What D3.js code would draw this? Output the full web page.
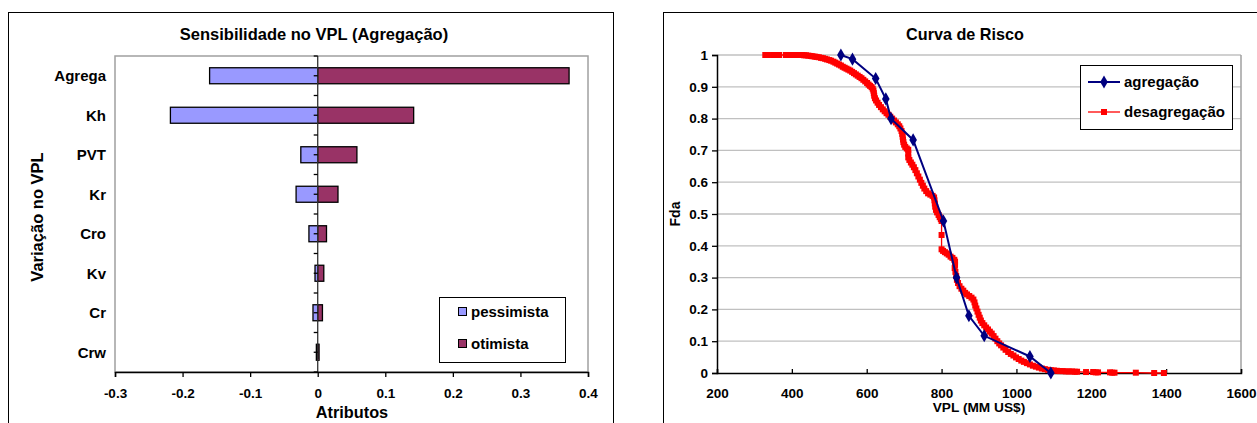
<!DOCTYPE html>
<html>
<head>
<meta charset="utf-8">
<script src="https://cdn.jsdelivr.net/npm/d3@7"></script>
<style>
  html, body { margin: 0; padding: 0; background: #fff; }
  svg { display: block; }
  text { font-family: "Liberation Sans", Arial, sans-serif; font-weight: bold; fill: #000; }
</style>
</head>
<body>
<svg id="chart" width="1257" height="423"></svg>
<script>
// ---- Sensitivity (tornado) data ----
const atributos = ["Agrega", "Kh", "PVT", "Kr", "Cro", "Kv", "Cr", "Crw"];
const pessimista = [-0.160, -0.218, -0.025, -0.032, -0.013, -0.004, -0.007, -0.002];
const otimista = [0.372, 0.142, 0.058, 0.030, 0.013, 0.009, 0.007, 0.002];
const sensTicks = [-0.3, -0.2, -0.1, 0, 0.1, 0.2, 0.3, 0.4];
const sensTickLabels = ["-0.3", "-0.2", "-0.1", "0", "0.1", "0.2", "0.3", "0.4"];

// ---- Risk curve data ----
const vplAgregacao = [531, 562, 624, 651, 665, 724, 805, 840, 873, 914, 1036, 1092];
const fdaAgregacao = [1.000, 0.987, 0.926, 0.862, 0.800, 0.733, 0.478, 0.300, 0.180, 0.117, 0.052, 0.000];

const vplDesagregacao = [
  329, 336, 350, 356, 366, 384, 390, 396, 401, 407, 412, 418, 423, 428, 433, 438, 444, 450, 455, 461,
  466, 472, 478, 483, 489, 494, 500, 505, 511, 516, 521, 526, 531, 536, 541, 546, 551, 556, 561, 566,
  571, 576, 581, 586, 591, 596, 601, 605, 609, 613, 616, 618, 619, 620, 622, 625, 629, 633, 638, 643,
  648, 653, 658, 663, 668, 673, 678, 683, 687, 690, 693, 695, 696, 697, 698, 700, 703, 707, 711, 711,
  711, 714, 718, 722, 726, 730, 734, 738, 742, 746, 750, 754, 759, 764, 770, 776, 780, 781, 782, 783,
  785, 788, 792, 795, 798, 800, 800, 800, 804, 809, 814, 819, 824, 829, 834, 836, 836, 835, 837, 839,
  841, 844, 848, 853, 858, 863, 868, 874, 880, 885, 888, 890, 893, 896, 899, 902, 905, 909, 914, 919,
  924, 929, 934, 939, 944, 949, 954, 959, 965, 971, 978, 985, 992, 999, 1006, 1013, 1020, 1028, 1036, 1044,
  1052, 1060, 1068, 1076, 1084, 1092, 1100, 1108, 1116, 1124, 1132, 1140, 1148, 1156, 1162, 1186, 1205, 1212, 1218, 1250,
  1256, 1262, 1319, 1368, 1394
];
const fdaDesagregacao = [
  1.000, 1.000, 1.000, 1.000, 1.000, 1.000, 1.000, 1.000, 1.000, 1.000, 1.000, 1.000, 1.000, 1.000, 0.999, 0.999, 0.998, 0.997, 0.996, 0.995,
  0.994, 0.993, 0.991, 0.990, 0.988, 0.986, 0.984, 0.982, 0.979, 0.976, 0.973, 0.970, 0.967, 0.963, 0.960, 0.957, 0.954, 0.951, 0.947, 0.943,
  0.939, 0.935, 0.931, 0.927, 0.922, 0.917, 0.912, 0.907, 0.903, 0.899, 0.894, 0.888, 0.880, 0.872, 0.864, 0.857, 0.850, 0.843, 0.836, 0.829,
  0.823, 0.817, 0.812, 0.806, 0.800, 0.794, 0.788, 0.782, 0.776, 0.769, 0.761, 0.752, 0.743, 0.734, 0.726, 0.718, 0.711, 0.706, 0.702, 0.690,
  0.678, 0.670, 0.662, 0.655, 0.647, 0.638, 0.628, 0.618, 0.608, 0.598, 0.589, 0.580, 0.572, 0.565, 0.561, 0.557, 0.552, 0.543, 0.533, 0.523,
  0.513, 0.505, 0.497, 0.490, 0.484, 0.478, 0.434, 0.389, 0.384, 0.380, 0.376, 0.372, 0.366, 0.362, 0.356, 0.350, 0.340, 0.330, 0.318, 0.305,
  0.293, 0.283, 0.273, 0.265, 0.259, 0.252, 0.247, 0.242, 0.237, 0.231, 0.222, 0.212, 0.203, 0.193, 0.183, 0.174, 0.165, 0.157, 0.150, 0.143,
  0.137, 0.130, 0.124, 0.116, 0.108, 0.100, 0.093, 0.087, 0.080, 0.073, 0.066, 0.060, 0.055, 0.049, 0.044, 0.039, 0.035, 0.031, 0.027, 0.023,
  0.020, 0.017, 0.014, 0.012, 0.010, 0.009, 0.008, 0.007, 0.006, 0.006, 0.005, 0.005, 0.005, 0.004, 0.004, 0.003, 0.003, 0.002, 0.002, 0.002,
  0.001, 0.001, 0.001, 0.000, 0.000
];
const fdaTicks = [0, 0.1, 0.2, 0.3, 0.4, 0.5, 0.6, 0.7, 0.8, 0.9, 1];
const fdaTickLabels = ["0", "0.1", "0.2", "0.3", "0.4", "0.5", "0.6", "0.7", "0.8", "0.9", "1"];
const vplTicks = [200, 400, 600, 800, 1000, 1200, 1400, 1600];

const svg = d3.select("#chart");

function styleAxis(a) {
  a.select(".domain").attr("stroke", "#000").attr("stroke-width", 1.5);
  a.selectAll(".tick line").attr("stroke", "#000").attr("stroke-width", 1.3);
  a.selectAll(".tick text").attr("font-size", 13.5).attr("font-family", "Liberation Sans, Arial, sans-serif")
    .attr("font-weight", "bold").attr("fill", "#000");
}

// =================== Left: tornado chart ===================
(function () {
  const g = svg.append("g");
  const L = 115, R = 588, T = 56, B = 372;
  const x = d3.scaleLinear().domain([-0.3, 0.4]).range([L, R]);
  const y = d3.scaleBand().domain(atributos).range([T, B]).paddingInner(0.595).paddingOuter(0.2975);

  // outer frame
  g.append("rect").attr("x", 8.5).attr("y", 12.5).attr("width", 605).attr("height", 440)
    .attr("fill", "none").attr("stroke", "#000").attr("stroke-width", 1);

  // plot area border
  g.append("rect").attr("x", L).attr("y", T).attr("width", R - L).attr("height", B - T)
    .attr("fill", "none").attr("stroke", "#a0a0a0").attr("stroke-width", 1.5);

  // bars
  const rows = atributos.map((a, i) => ({ a, p: pessimista[i], o: otimista[i] }));
  g.selectAll("rect.pes").data(rows).join("rect").attr("class", "pes")
    .attr("x", d => x(d.p)).attr("width", d => x(0) - x(d.p))
    .attr("y", d => y(d.a)).attr("height", y.bandwidth())
    .attr("fill", "#9999FF").attr("stroke", "#000").attr("stroke-width", 1.3);
  g.selectAll("rect.oti").data(rows).join("rect").attr("class", "oti")
    .attr("x", x(0)).attr("width", d => x(d.o) - x(0))
    .attr("y", d => y(d.a)).attr("height", y.bandwidth())
    .attr("fill", "#993366").attr("stroke", "#000").attr("stroke-width", 1.3);

  // vertical category axis at zero
  const step = y.step();
  const catTicks = d3.range(0, atributos.length * 2 + 1).map(k => T + k * step / 2);
  g.append("line").attr("x1", x(0)).attr("x2", x(0)).attr("y1", T).attr("y2", B)
    .attr("stroke", "#333").attr("stroke-width", 1.3);
  g.selectAll("line.ct").data(catTicks).join("line").attr("class", "ct")
    .attr("x1", x(0) - 4).attr("x2", x(0)).attr("y1", d => d).attr("y2", d => d)
    .attr("stroke", "#000").attr("stroke-width", 1.3);

  // category labels
  g.selectAll("text.cat").data(atributos).join("text").attr("class", "cat")
    .attr("x", 106).attr("y", d => y(d) + y.bandwidth() / 2)
    .attr("dy", "0.36em").attr("text-anchor", "end").attr("font-size", 15).text(d => d);

  // value axis
  const ax = d3.axisBottom(x).tickValues(sensTicks).tickSize(5).tickPadding(11)
    .tickFormat((d, i) => sensTickLabels[i]);
  const axg = g.append("g").attr("transform", `translate(0,${B})`).call(ax);
  styleAxis(axg);

  // titles
  g.append("text").attr("x", 314).attr("y", 40).attr("text-anchor", "middle").attr("font-size", 16.5)
    .text("Sensibilidade no VPL (Agregação)");
  g.append("text").attr("x", 352).attr("y", 418).attr("text-anchor", "middle").attr("font-size", 16.3)
    .text("Atributos");
  g.append("text").attr("transform", "translate(43,217) rotate(-90)").attr("text-anchor", "middle")
    .attr("font-size", 16.5).text("Variação no VPL");

  // legend
  const lg = g.append("g");
  lg.append("rect").attr("x", 439.5).attr("y", 297.5).attr("width", 126).attr("height", 65)
    .attr("fill", "#fff").attr("stroke", "#000").attr("stroke-width", 1);
  const items = [{ t: "pessimista", c: "#9999FF", yy: 312 }, { t: "otimista", c: "#993366", yy: 344 }];
  items.forEach(it => {
    lg.append("rect").attr("x", 458.5).attr("y", it.yy - 4.5).attr("width", 8).attr("height", 8)
      .attr("fill", it.c).attr("stroke", "#000").attr("stroke-width", 1);
    lg.append("text").attr("x", 471).attr("y", it.yy).attr("dy", "0.36em").attr("font-size", 15).text(it.t);
  });
})();

// =================== Right: risk curve ===================
(function () {
  const g = svg.append("g");
  const L = 717, R = 1241, T = 55, B = 373;
  const x = d3.scaleLinear().domain([200, 1600]).range([L, R]);
  const y = d3.scaleLinear().domain([0, 1]).range([B, T]);

  // outer frame
  g.append("rect").attr("x", 663.5).attr("y", 12.5).attr("width", 620).attr("height", 440)
    .attr("fill", "none").attr("stroke", "#000").attr("stroke-width", 1);

  // gridlines
  g.selectAll("line.grid").data(fdaTicks.filter(v => v > 0)).join("line").attr("class", "grid")
    .attr("x1", L).attr("x2", R).attr("y1", d => y(d)).attr("y2", d => y(d))
    .attr("stroke", "#c0c0c0").attr("stroke-width", 1.3);
  g.append("line").attr("x1", R).attr("x2", R).attr("y1", T).attr("y2", B)
    .attr("stroke", "#a0a0a0").attr("stroke-width", 1.5);

  // axes
  const yAx = d3.axisLeft(y).tickValues(fdaTicks).tickSize(5).tickPadding(4)
    .tickFormat((d, i) => fdaTickLabels[i]);
  const yg = g.append("g").attr("transform", `translate(${L},0)`).call(yAx);
  const xAx = d3.axisBottom(x).tickValues(vplTicks).tickSize(-4).tickPadding(15).tickFormat(d3.format("d"));
  const xg = g.append("g").attr("transform", `translate(0,${B})`).call(xAx);
  styleAxis(yg);
  styleAxis(xg);

  // series
  const line = d3.line().x(d => x(d[0])).y(d => y(d[1]));
  const des = vplDesagregacao.map((v, i) => [v, fdaDesagregacao[i]]);
  const agr = vplAgregacao.map((v, i) => [v, fdaAgregacao[i]]);

  g.append("path").datum(des).attr("d", line).attr("fill", "none").attr("stroke", "#FF0000").attr("stroke-width", 1.3);
  g.selectAll("rect.des").data(des).join("rect").attr("class", "des")
    .attr("x", d => x(d[0]) - 3).attr("y", d => y(d[1]) - 3).attr("width", 6).attr("height", 6)
    .attr("fill", "#FF0000");

  g.append("path").datum(agr).attr("d", line).attr("fill", "none").attr("stroke", "#000080").attr("stroke-width", 2);
  const diamond = d3.symbol().type(d3.symbolDiamond).size(50);
  g.selectAll("path.agr").data(agr).join("path").attr("class", "agr")
    .attr("transform", d => `translate(${x(d[0])},${y(d[1])})`).attr("d", diamond).attr("fill", "#000080");

  // titles
  g.append("text").attr("x", 965).attr("y", 40).attr("text-anchor", "middle").attr("font-size", 16.2)
    .text("Curva de Risco");
  g.append("text").attr("x", 979).attr("y", 412).attr("text-anchor", "middle").attr("font-size", 13.7)
    .text("VPL (MM US$)");
  g.append("text").attr("transform", "translate(680,214) rotate(-90)").attr("text-anchor", "middle")
    .attr("font-size", 14).text("Fda");

  // legend
  const lg = g.append("g");
  lg.append("rect").attr("x", 1080.5).attr("y", 65.5).attr("width", 152).attr("height", 64)
    .attr("fill", "#fff").attr("stroke", "#000").attr("stroke-width", 1);
  lg.append("line").attr("x1", 1088).attr("x2", 1120).attr("y1", 82).attr("y2", 82)
    .attr("stroke", "#000080").attr("stroke-width", 2);
  lg.append("path").attr("transform", "translate(1104,82)").attr("d", diamond).attr("fill", "#000080");
  lg.append("text").attr("x", 1124).attr("y", 82).attr("dy", "0.36em").attr("font-size", 15).text("agregação");
  lg.append("line").attr("x1", 1088).attr("x2", 1120).attr("y1", 112).attr("y2", 112)
    .attr("stroke", "#FF0000").attr("stroke-width", 1.3);
  lg.append("rect").attr("x", 1101).attr("y", 109).attr("width", 6).attr("height", 6).attr("fill", "#FF0000");
  lg.append("text").attr("x", 1124).attr("y", 112).attr("dy", "0.36em").attr("font-size", 15).text("desagregação");
})();
</script>
</body>
</html>
